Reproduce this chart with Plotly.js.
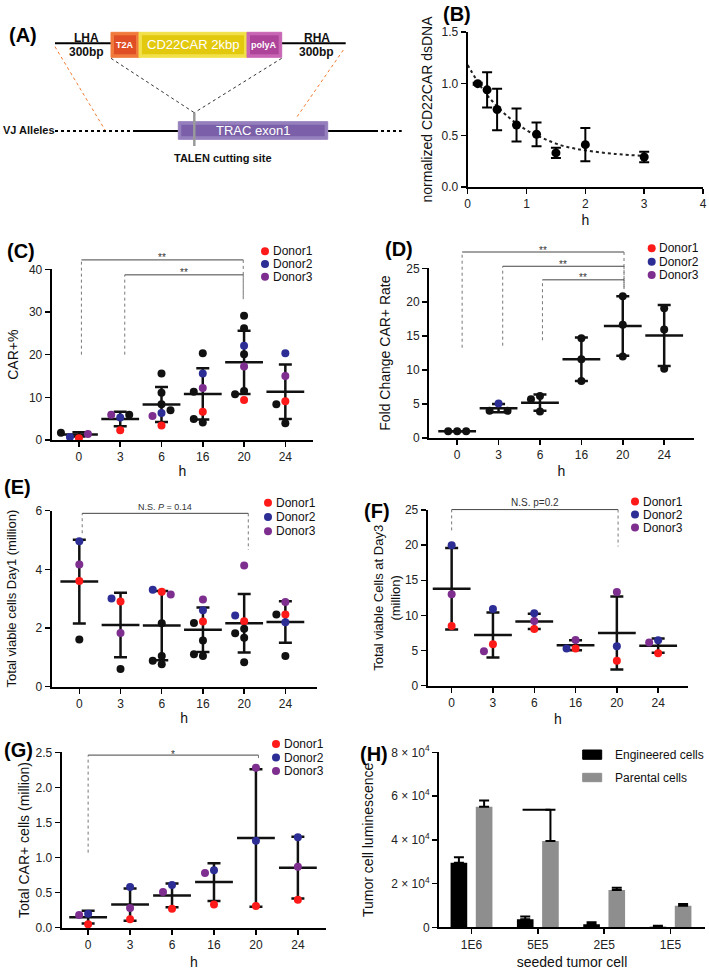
<!DOCTYPE html>
<html>
<head>
<meta charset="utf-8">
<script src="https://cdn.plot.ly/plotly-3.0.1.min.js"></script>
<style>body{margin:0;background:#fff}#plot{width:709px;height:970px}</style>
</head>
<body>
<div id="plot"></div>
<script>
// ---- data ----
var hours = ['0', '3', '6', '16', '20', '24'];
var grpIdx = [0, 1, 2, 3, 4, 5];

// (B) dsDNA decay
var bX = [0.17, 0.33, 0.5, 0.83, 1.17, 1.5, 2, 3];
var bY = [1.0, 0.94, 0.75, 0.6, 0.51, 0.33, 0.41, 0.29];
var bErr = [0.01, 0.17, 0.2, 0.16, 0.115, 0.05, 0.16, 0.05];
var bFitX = [0, 0.25, 0.5, 0.75, 1, 1.25, 1.5, 1.75, 2, 2.5, 3.05];
var bFitY = [1.18, 0.95, 0.78, 0.65, 0.55, 0.48, 0.42, 0.38, 0.355, 0.32, 0.30];

// (C) CAR+%
var cDonor1 = [0.4, 2.3, 3.4, 6.6, 9.4, 9.1];
var cDonor2 = [0.7, 5.3, 6.3, 15.6, 22.1, 20.3];
var cDonor3 = [1.4, 5.9, 5.6, 12.2, 17.2, 15.0];
var cOtherGrp = [0, 1, 2, 2, 2, 2, 3, 3, 3, 3, 4, 4, 4, 4, 4, 5, 5];
var cOtherVal = [1.7, 5.9, 15.6, 11.1, 8.4, 7.0, 20.3, 11.3, 4.9, 4.1, 29.1, 26.2, 20.1, 11.5, 10.7, 8.4, 3.9];
var cMean = [1.3, 4.9, 8.3, 10.8, 18.2, 11.3];
var cSd = [0.5, 1.7, 4.1, 6.0, 7.4, 6.4];

// (D) fold change
var dDonor2Grp = [1];
var dDonor2Val = [5.1];
var dOtherGrp = [0, 0, 0, 1, 1, 2, 2, 2, 3, 3, 3, 4, 4, 4, 5, 5, 5];
var dOtherVal = [1, 1, 1, 4.0, 4.0, 6.2, 5.7, 3.9, 14.7, 11.6, 8.4, 20.9, 16.7, 12.0, 19.1, 16.0, 10.2];
var dMean = [1.0, 4.4, 5.2, 11.6, 16.5, 15.1];
var dSd = [0.0, 0.6, 1.2, 3.2, 4.4, 4.5];

// (E) viable cells day1
var eDonor1 = [3.6, 2.9, 3.23, 2.22, 2.23, 2.46];
var eDonor2 = [4.96, 3.0, 3.3, 2.6, 2.42, 2.19];
var eDonor3 = [4.16, 1.83, 3.14, 2.97, 4.13, 2.88];
var eOtherGrp = [0, 1, 2, 2, 2, 2, 3, 3, 3, 3, 4, 4, 4, 4, 5, 5];
var eOtherVal = [1.6, 0.6, 2.16, 1.04, 0.88, 0.76, 2.17, 1.57, 1.04, 1.1, 1.97, 1.82, 1.66, 0.83, 2.46, 1.04];
var eMean = [3.58, 2.1, 2.08, 1.94, 2.16, 2.2];
var eSd = [1.43, 1.1, 1.18, 0.76, 1.0, 0.71];

// (F) viable cells day3
var fDonor1 = [8.5, 5.9, 8.05, 5.3, 3.55, 4.6];
var fDonor2 = [20.0, 10.9, 10.3, 5.3, 5.6, 6.45];
var fDonor3 = [13.0, 4.9, 9.2, 6.5, 13.35, 6.15];
var fMean = [13.8, 7.2, 9.15, 5.75, 7.5, 5.7];
var fSd = [5.8, 3.2, 1.1, 0.7, 5.2, 1.0];

// (G) total CAR+ cells
var gDonor1 = [0.05, 0.12, 0.27, 0.33, 0.31, 0.4];
var gDonor2 = [0.2, 0.58, 0.61, 0.82, 1.24, 1.29];
var gDonor3 = [0.18, 0.28, 0.51, 0.78, 2.28, 0.87];
var gMean = [0.15, 0.33, 0.46, 0.65, 1.28, 0.855];
var gSd = [0.09, 0.23, 0.17, 0.27, 0.98, 0.44];

// (H) luminescence
var hCats = ['1E6', '5E5', '2E5', '1E5'];
var hEng = [29500, 3700, 1400, 300];
var hEngErr = [2500, 1200, 900, 450];
var hPar = [55100, 39400, 17000, 9900];
var hParErr = [2900, 14300, 1050, 750];

// ---- helpers ----
var W = 709, H = 970;
var FONT = 'Liberation Sans, Arial, sans-serif';
var RED = '#ff1a1a', BLUE = '#2d2d96', PURPLE = '#7d2e8f', BLACK = '#111';
function fx(v) { return v / W; }
function fy(v) { return 1 - v / H; }

// plot boxes in pixels
var panels = {
  B: {n: 1, x0: 467.7, x1: 703, yb: 187, yt: 32, xr: [0, 4], yr: [0, 1.5]},
  C: {n: 2, x0: 51.7, x1: 313, yb: 440, yt: 269.3, xr: [-0.66, 5.67], yr: [0, 40]},
  D: {n: 3, x0: 429, x1: 694, yb: 438, yt: 268.3, xr: [-0.68, 5.72], yr: [0, 25]},
  E: {n: 4, x0: 51.7, x1: 316.7, yb: 686.5, yt: 510.7, xr: [-0.67, 5.76], yr: [0, 6]},
  F: {n: 5, x0: 427.7, x1: 688.3, yb: 685.7, yt: 510, xr: [-0.58, 5.73], yr: [0, 25]},
  G: {n: 6, x0: 61.7, x1: 326, yb: 927.7, yt: 752.3, xr: [-0.63, 5.67], yr: [0, 2.5]},
  H: {n: 7, x0: 439, x1: 705, yb: 927.3, yt: 752.3, xr: [-0.49, 3.52], yr: [0, 80000]}
};
function sfx(p) { return p.n > 1 ? String(p.n) : ''; }
function dpx(p, v) { return fx(p.x0 + (v - p.xr[0]) / (p.xr[1] - p.xr[0]) * (p.x1 - p.x0)); }
function dpy(p, v) { return fy(p.yb - (v - p.yr[0]) / (p.yr[1] - p.yr[0]) * (p.yb - p.yt)); }

var layout = {
  width: W, height: H,
  margin: {l: 0, r: 0, t: 0, b: 0},
  paper_bgcolor: '#fff', plot_bgcolor: 'rgba(0,0,0,0)',
  font: {family: FONT, color: '#111'},
  showlegend: false,
  barmode: 'group', bargap: 0.24, bargroupgap: 0.34,
  shapes: [], annotations: []
};
var data = [];

function addAxes(p, xo, yo) {
  var s = sfx(p);
  var base = {showline: true, linewidth: 2, linecolor: '#000', ticks: 'outside', ticklen: 5,
    tickwidth: 1.5, tickcolor: '#000', showgrid: false, zeroline: false,
    tickfont: {size: 12, color: '#222'}, fixedrange: true};
  layout['xaxis' + s] = Object.assign({}, base, {domain: [fx(p.x0), fx(p.x1)], range: p.xr, anchor: 'y' + s}, xo);
  layout['yaxis' + s] = Object.assign({}, base, {domain: [fy(p.yb), fy(p.yt)], range: p.yr, anchor: 'x' + s}, yo);
}

// simple deterministic swarm so that dots with close values sit side by side
function swarm(p, groups, values) {
  var sx = (p.x1 - p.x0) / (p.xr[1] - p.xr[0]);
  var sy = (p.yb - p.yt) / (p.yr[1] - p.yr[0]);
  var offs = [0, -9, 9, -18, 18, -27, 27];
  var placed = [];
  return groups.map(function (g, i) {
    var ypx = values[i] * sy;
    for (var k = 0; k < offs.length; k++) {
      var xpx = g * sx + offs[k];
      var ok = placed.every(function (q) { return Math.hypot(q[0] - xpx, q[1] - ypx) >= 7.5; });
      if (ok) { placed.push([xpx, ypx]); return xpx / sx; }
    }
    placed.push([g * sx, ypx]);
    return g;
  });
}

function dotPanel(p, sets, mean, sd) {
  var s = sfx(p);
  data.push({x: grpIdx, y: mean, type: 'scatter', mode: 'markers', xaxis: 'x' + s, yaxis: 'y' + s,
    marker: {symbol: 'line-ew', size: 27, color: BLACK, line: {width: 2.5, color: BLACK}},
    error_y: {type: 'data', array: sd, thickness: 2.5, width: 6.5, color: BLACK},
    cliponaxis: false, hoverinfo: 'y'});
  var allG = [], allV = [];
  sets.forEach(function (st) { allG = allG.concat(st.grp); allV = allV.concat(st.val); });
  var xs = swarm(p, allG, allV);
  var k = 0;
  sets.forEach(function (st) {
    data.push({x: xs.slice(k, k + st.val.length), y: st.val, type: 'scatter', mode: 'markers',
      xaxis: 'x' + s, yaxis: 'y' + s, marker: {size: 8, color: st.color}, cliponaxis: false, hoverinfo: 'y'});
    k += st.val.length;
  });
}

function linePx(x0, y0, x1, y1, color, width, dash) {
  layout.shapes.push({type: 'line', xref: 'paper', yref: 'paper', x0: fx(x0), y0: fy(y0), x1: fx(x1), y1: fy(y1),
    line: {color: color, width: width, dash: dash || 'solid'}});
}
function rectPx(x0, y0, x1, y1, fill, edge) {
  layout.shapes.push({type: 'rect', xref: 'paper', yref: 'paper', x0: fx(x0), y0: fy(y1), x1: fx(x1), y1: fy(y0),
    fillcolor: fill, line: {color: edge, width: 1}});
}
// box with a bevelled rim like the drawing
function bevelBox(x0, y0, x1, y1, rim, face) {
  rectPx(x0, y0, x1, y1, rim, rim);
  layout.shapes.push({type: 'rect', xref: 'paper', yref: 'paper', x0: fx(x0 + 3), y0: fy(y1 - 3),
    x1: fx(x1 - 3), y1: fy(y0 + 3), fillcolor: face, line: {width: 0}});
}
function textPx(x, y, txt, size, color, anchor) {
  layout.annotations.push({xref: 'paper', yref: 'paper', x: fx(x), y: fy(y), text: txt, showarrow: false,
    xanchor: anchor || 'center', yanchor: 'middle', font: {size: size, color: color || '#111'}});
}
function bracket(p, xa, xb, top, yl, yr, label, lsize, lshift) {
  var pl = function (a, b, c, d, col, dash) {
    layout.shapes.push({type: 'line', xref: 'paper', yref: 'paper', x0: a, y0: b, x1: c, y1: d,
      line: {color: col, width: 1, dash: dash}});
  };
  pl(dpx(p, xa), dpy(p, yl), dpx(p, xa), dpy(p, top), '#777', 'dot');
  pl(dpx(p, xa), dpy(p, top), dpx(p, xb), dpy(p, top), '#444', 'solid');
  pl(dpx(p, xb), dpy(p, top), dpx(p, xb), dpy(p, yr), '#777', 'dot');
  layout.annotations.push({xref: 'paper', yref: 'paper', x: (dpx(p, xa) + dpx(p, xb)) / 2, y: dpy(p, top),
    text: label, showarrow: false, xanchor: 'center', yanchor: 'middle', yshift: lshift,
    font: {size: lsize, color: '#333'}});
}
function donorLegend(x, ys, size) {
  [RED, BLUE, PURPLE].forEach(function (c, i) {
    layout.shapes.push({type: 'circle', xref: 'paper', yref: 'paper', x0: fx(x - 4), x1: fx(x + 4),
      y0: fy(ys[i] + 4), y1: fy(ys[i] - 4), fillcolor: c, line: {width: 0}});
    textPx(x + 5.5, ys[i], 'Donor' + (i + 1), size, '#111', 'left');
  });
}

var hourAxis = {tickvals: grpIdx, ticktext: hours};
function xt(standoff) { return {text: 'h', font: {size: 14}, standoff: standoff}; }
function yt(txt, size, standoff) { return {text: txt, font: {size: size}, standoff: standoff}; }

// ---- (A) construct diagram ----
linePx(55, 43.3, 111, 43.3, '#000', 2);
linePx(281.7, 43.3, 345.7, 43.3, '#000', 2);
bevelBox(111, 32.3, 139, 57.3, '#f07a3c', '#e04e26');
bevelBox(139, 32.3, 247, 57.3, '#f2e04a', '#e3c90e');
bevelBox(247, 32.3, 281.7, 57.3, '#c866b4', '#ad4499');
linePx(111, 58.3, 194.3, 112.7, '#333', 1, 'dot');
linePx(281.7, 58.3, 194.3, 112.7, '#333', 1, 'dot');
linePx(55, 46.7, 105, 130, '#f07a30', 1, 'dot');
linePx(343.3, 50, 296, 118.3, '#f07a30', 1, 'dot');
linePx(55, 131, 133, 131, '#000', 2, 'dot');
linePx(133, 131, 178.3, 131, '#000', 2);
linePx(327.7, 131, 375, 131, '#000', 2);
linePx(375, 131, 401.7, 131, '#000', 2, 'dot');
bevelBox(178.3, 121.7, 327.7, 139.3, '#9580bd', '#7b5fa8');
linePx(194.3, 112.7, 194.3, 146, '#9a9a9a', 2.5);
textPx(86, 38, '<b>LHA</b>', 12);
textPx(86, 52, '<b>300bp</b>', 12);
textPx(316.7, 38, '<b>RHA</b>', 12);
textPx(316.7, 52, '<b>300bp</b>', 12);
textPx(125, 45, '<b>T2A</b>', 9, '#fff');
textPx(193, 44.5, 'CD22CAR 2kbp', 13, '#fff');
textPx(264, 45, '<b>polyA</b>', 9, '#fff');
textPx(1, 130.5, '<b>VJ Alleles</b>', 11, '#111', 'left');
textPx(252.5, 130.5, 'TRAC exon1', 13, '#fff');
textPx(223, 158, '<b>TALEN cutting site</b>', 11);

// ---- (B) ----
var pB = panels.B;
addAxes(pB, {dtick: 1, title: xt(5)},
  {dtick: 0.5, tickformat: '.1f', title: yt('normalized CD22CAR dsDNA', 14, 6)});
data.push({x: bFitX, y: bFitY, type: 'scatter', mode: 'lines', xaxis: 'x', yaxis: 'y',
  line: {dash: 'dot', width: 2, color: '#222', shape: 'spline'}, hoverinfo: 'skip'});
data.push({x: bX, y: bY, type: 'scatter', mode: 'markers', xaxis: 'x', yaxis: 'y',
  marker: {size: 9, color: '#000'}, error_y: {type: 'data', array: bErr, thickness: 2, width: 5, color: '#000'},
  cliponaxis: false});

// ---- (C) ----
var pC = panels.C;
addAxes(pC, Object.assign({title: xt(3)}, hourAxis), {dtick: 10, title: yt('CAR+%', 14, 7)});
dotPanel(pC, [
  {grp: grpIdx, val: cDonor1, color: RED},
  {grp: grpIdx, val: cDonor2, color: BLUE},
  {grp: grpIdx, val: cDonor3, color: PURPLE},
  {grp: cOtherGrp, val: cOtherVal, color: BLACK}], cMean, cSd);
bracket(pC, 0.06, 3.98, 42.2, 20, 33, '**', 10, 2);
bracket(pC, 1.11, 3.98, 38.7, 20, 33, '**', 10, 2);
donorLegend(265, [251.2, 264, 276.8], 12);

// ---- (D) ----
var pD = panels.D;
addAxes(pD, Object.assign({title: xt(5)}, hourAxis), {dtick: 5, title: yt('Fold Change CAR+ Rate', 14, 12)});
dotPanel(pD, [
  {grp: dDonor2Grp, val: dDonor2Val, color: BLUE},
  {grp: dOtherGrp, val: dOtherVal, color: BLACK}], dMean, dSd);
bracket(pD, 0.12, 4.03, 27.4, 13.3, 22, '**', 10, 2);
bracket(pD, 1.1, 4.03, 25.3, 13.6, 22, '**', 10, 2);
bracket(pD, 2.06, 4.03, 23.3, 14.4, 22, '**', 10, 2);
donorLegend(651.7, [248.3, 261.7, 275], 12);

// ---- (E) ----
var pE = panels.E;
addAxes(pE, Object.assign({title: xt(3)}, hourAxis), {dtick: 2, title: yt('Total viable cells Day1 (million)', 13, 16)});
dotPanel(pE, [
  {grp: grpIdx, val: eDonor1, color: RED},
  {grp: grpIdx, val: eDonor2, color: BLUE},
  {grp: grpIdx, val: eDonor3, color: PURPLE},
  {grp: eOtherGrp, val: eOtherVal, color: BLACK}], eMean, eSd);
bracket(pE, 0.07, 4.1, 5.91, 5.23, 4.66, 'N.S. <i>P</i> = 0.14', 9, 6);
donorLegend(268, [502.7, 517, 531.3], 12);

// ---- (F) ----
var pF = panels.F;
addAxes(pF, Object.assign({title: xt(5)}, hourAxis),
  {dtick: 5, title: yt('Total viable Cells at Day3<br>(million)', 13, 1)});
dotPanel(pF, [
  {grp: grpIdx, val: fDonor1, color: RED},
  {grp: grpIdx, val: fDonor2, color: BLUE},
  {grp: grpIdx, val: fDonor3, color: PURPLE}], fMean, fSd);
bracket(pF, 0, 4.03, 25.06, 22.1, 19.8, 'N.S. p=0.2', 10, 7);
donorLegend(635, [501.5, 514.5, 527.5], 12);

// ---- (G) ----
var pG = panels.G;
addAxes(pG, Object.assign({title: xt(6)}, hourAxis),
  {dtick: 0.5, tickformat: '.1f', title: yt('Total CAR+ cells (million)', 14, 3)});
dotPanel(pG, [
  {grp: grpIdx, val: gDonor1, color: RED},
  {grp: grpIdx, val: gDonor2, color: BLUE},
  {grp: grpIdx, val: gDonor3, color: PURPLE}], gMean, gSd);
bracket(pG, 0, 4.06, 2.46, 1.07, 2.41, '*', 10, 1);
donorLegend(276, [744, 757.5, 771], 12);

// ---- (H) ----
var pH = panels.H;
addAxes(pH, {tickvals: [0, 1, 2, 3], ticktext: hCats, title: {text: 'seeded tumor cell', font: {size: 14}, standoff: 6}},
  {tickvals: [0, 20000, 40000, 60000, 80000],
   ticktext: ['0', '2 × 10<sup>4</sup>', '4 × 10<sup>4</sup>', '6 × 10<sup>4</sup>', '8 × 10<sup>4</sup>'],
   tickfont: {size: 12, color: '#222'}, title: yt('Tumor cell luminescence', 14, 14)});
data.push({x: [0, 1, 2, 3], y: hEng, type: 'bar', name: 'Engineered cells', xaxis: 'x7', yaxis: 'y7',
  marker: {color: '#000'},
  error_y: {type: 'data', symmetric: false, array: hEngErr, arrayminus: [0, 0, 0, 0], thickness: 2, width: 5, color: '#000'}});
data.push({x: [0, 1, 2, 3], y: hPar, type: 'bar', name: 'Parental cells', xaxis: 'x7', yaxis: 'y7',
  marker: {color: '#8e8e8e'},
  error_y: {type: 'data', symmetric: false, array: hParErr, arrayminus: [0, 0, 0, 0], thickness: 2, width: 5, color: '#000'}});
// odd left-hand cap over the 5E5 parental bar
layout.shapes.push({type: 'line', xref: 'x7', yref: 'y7', x0: 0.77, x1: 1.19, y0: hPar[1] + hParErr[1], y1: hPar[1] + hParErr[1],
  line: {color: '#000', width: 2}});
rectPx(582.7, 750, 601.7, 759.3, '#000', '#000');
rectPx(582.7, 773.3, 601.7, 781.7, '#8e8e8e', '#8e8e8e');
textPx(613.3, 754.7, 'Engineered cells', 12, '#111', 'left');
textPx(613.3, 777.5, 'Parental cells', 12, '#111', 'left');

// ---- panel letters ----
[['(A)', 23, 35], ['(B)', 457, 14], ['(C)', 21, 251], ['(D)', 399, 249], ['(E)', 17, 487],
 ['(F)', 377, 511], ['(G)', 18, 750], ['(H)', 374, 754]].forEach(function (l) {
  textPx(l[1], l[2], '<b>' + l[0] + '</b>', 20, '#000');
});

Plotly.newPlot('plot', data, layout, {staticPlot: true});
</script>
</body>
</html>
